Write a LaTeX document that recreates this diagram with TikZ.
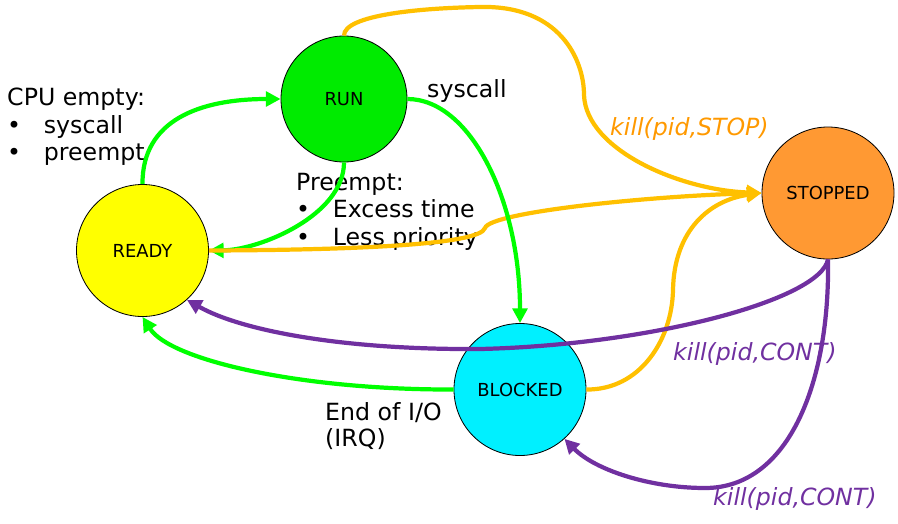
\documentclass[tikz,border=0pt]{standalone}
\usepackage{fontspec}
\setmainfont{DejaVu Sans}
\usetikzlibrary{arrows.meta}

\definecolor{lgreen}{RGB}{0,255,0}
\definecolor{rungreen}{RGB}{0,235,0}
\definecolor{readyfill}{RGB}{255,255,0}
\definecolor{stopfill}{RGB}{255,153,51}
\definecolor{blockfill}{RGB}{0,240,255}
\definecolor{gold}{RGB}{255,192,0}
\definecolor{ortext}{RGB}{255,153,0}
\definecolor{violet}{RGB}{112,48,160}

\newcommand{\bitem}[1]{\makebox[1.1cm][l]{\textbullet}#1}

\begin{document}
\begin{tikzpicture}[
        x=0.03cm, y=-0.03cm,
        state/.style={draw, circle, line width=0.7pt, inner sep=0pt, minimum size=3.96cm, font=\fontsize{15.3}{18}\selectfont},
        lbl/.style={anchor=base west, inner sep=0pt, font=\fontsize{20.2}{24}\selectfont},
        klbl/.style={lbl, font=\fontsize{20.2}{24}\selectfont\itshape},
        trans/.style={line width=3.6pt, -{Triangle[length=12.5pt, width=12.5pt]}}
    ]
        \useasboundingbox (0,0) rectangle (898,523);

        % States
        \node[state, fill=rungreen, minimum size=3.78cm] (run) at (344,99) {RUN};
        \node[state, fill=readyfill] (ready) at (142.5,250.5) {READY};
        \node[state, fill=stopfill] (stopped) at (828,193) {STOPPED};
        \node[state, fill=blockfill] (blocked) at (520,389.5) {BLOCKED};

        % Labels
        \node[lbl] (cpu) at (7,105) {CPU empty:};
        \node[lbl] (cpua) at (7,133) {\bitem{syscall}};
        \node[lbl] (cpub) at (7,160) {\bitem{preempt}};
        \node[lbl] (sys) at (427,97) {syscall};
        \node[lbl] (pre) at (296,190) {Preempt:};
        \node[lbl] (prea) at (296,217) {\bitem{Excess time}};
        \node[lbl] (preb) at (296,245) {\bitem{Less priority}};
        \node[lbl] (eio) at (325,420) {End of I/O};
        \node[lbl] (irq) at (325,446) {(IRQ)};
        \node[klbl, text=ortext] (kstop) at (610,135) {kill(pid,STOP)};
        \node[klbl, text=violet] (kcont) at (673,360) {kill(pid,CONT)};
        \node[klbl, text=violet] (kcontb) at (713,505) {kill(pid,CONT)};

        % Preempt
        \draw[trans, lgreen] (run.south) .. controls (344,215) and (260,250) .. (ready.east);

        % STOP signals
        \draw[trans, gold] (run.north) .. controls (344,15) and (420,8) .. (480,7)
            .. controls (560,5) and (584,60) .. (584,95)
            .. controls (586,150) and (680,190) .. (stopped.west);
        \draw[trans, gold] (ready.east) .. controls (350,250) and (480,245) .. (485,228)
            .. controls (490,212) and (650,196) .. (stopped.west);
        \draw[trans, gold] (blocked.east) .. controls (640,390) and (672,340) .. (673,290)
            .. controls (674,230) and (710,200) .. (stopped.west);

        % Scheduling and I/O
        \draw[trans, lgreen] (ready.north) .. controls (142,120) and (200,99) .. (run.west);
        \draw[trans, lgreen] (run.east) .. controls (470,99) and (520,200) .. (blocked.north);
        \draw[trans, lgreen] (blocked.west) .. controls (300,390) and (170,360) .. (ready.south);

        % CONT signals
        \draw[trans, violet] (stopped.south) .. controls (820,300) and (650,345) .. (480,349)
            .. controls (340,350) and (240,330) .. (ready.-48);
        \draw[trans, violet] (stopped.south) .. controls (830,380) and (790,488) .. (705,488)
            .. controls (650,488) and (595,470) .. (blocked.-48);
    \end{tikzpicture}
\end{document}
